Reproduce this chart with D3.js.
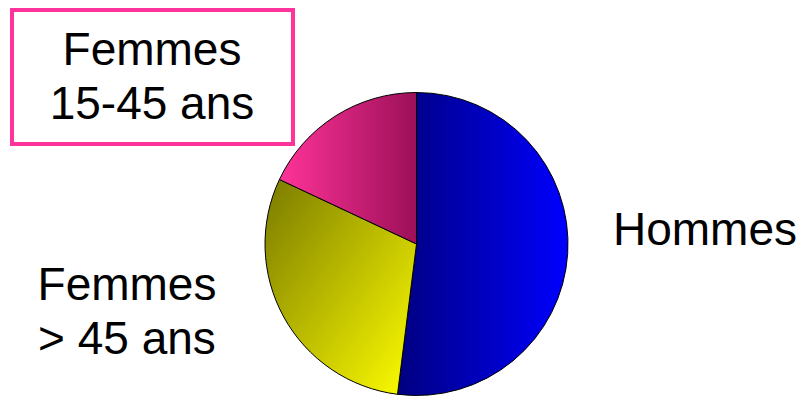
<!DOCTYPE html>
<html>
<head>
<meta charset="utf-8">
<script src="https://cdn.jsdelivr.net/npm/d3@7"></script>
<style>
  body { margin: 0; background: #fff; }
  text { font-family: "Liberation Sans", Arial, sans-serif; font-size: 46px; fill: #000; }
</style>
</head>
<body>
<div id="chart"></div>
<script>
// parts of the population (percent), clockwise from 12 o'clock
const groups = ["Hommes", "Femmes > 45 ans", "Femmes 15-45 ans"];
const shares = [52, 30, 18];
const labelLines = [["Hommes"], ["Femmes", "> 45 ans"], ["Femmes", "15-45 ans"]];

const width = 804, height = 397;
const cx = 416.5, cy = 244, r = 151.5;

const svg = d3.select("#chart")
    .append("svg")
    .attr("width", width)
    .attr("height", height);

const defs = svg.append("defs");

// gradients: [id, x1, y1, x2, y2, from, to]
const grads = [
    ["g0", 0, 0, 1, 0, "#000080", "#0000ff"],
    ["g1", 0, 0, 1, 1, "#7a7a00", "#ffff00"],
    ["g2", 0, 0, 1, 0, "#ff3399", "#9c1058"]
];
grads.forEach(g => {
    const lg = defs.append("linearGradient")
        .attr("id", g[0])
        .attr("x1", g[1]).attr("y1", g[2])
        .attr("x2", g[3]).attr("y2", g[4]);
    lg.append("stop").attr("offset", "0%").attr("stop-color", g[5]);
    lg.append("stop").attr("offset", "100%").attr("stop-color", g[6]);
});

const pie = d3.pie().sort(null).value(d => d);
const arc = d3.arc().innerRadius(0).outerRadius(r);

const arcs = pie(shares);

svg.append("g")
    .attr("transform", `translate(${cx},${cy})`)
    .selectAll("path")
    .data(arcs)
    .join("path")
    .attr("d", arc)
    .attr("fill", (d, i) => `url(#g${i})`)
    .attr("stroke", "#000")
    .attr("stroke-width", 1);

// label box for the small slice
svg.append("rect")
    .attr("x", 12).attr("y", 10)
    .attr("width", 281).attr("height", 134)
    .attr("fill", "#fff")
    .attr("stroke", "#ff3399")
    .attr("stroke-width", 4);

// where each label sits (centre x, first baseline)
const labelPos = [[705, 245], [127, 300], [152, 65]];
const lineGap = 54;

labelLines.forEach((lines, i) => {
    const t = svg.append("text")
        .attr("text-anchor", "middle")
        .attr("x", labelPos[i][0])
        .attr("y", labelPos[i][1]);
    lines.forEach((s, j) => {
        t.append("tspan")
            .attr("x", labelPos[i][0])
            .attr("dy", j === 0 ? 0 : lineGap)
            .text(s);
    });
});
</script>
</body>
</html>
